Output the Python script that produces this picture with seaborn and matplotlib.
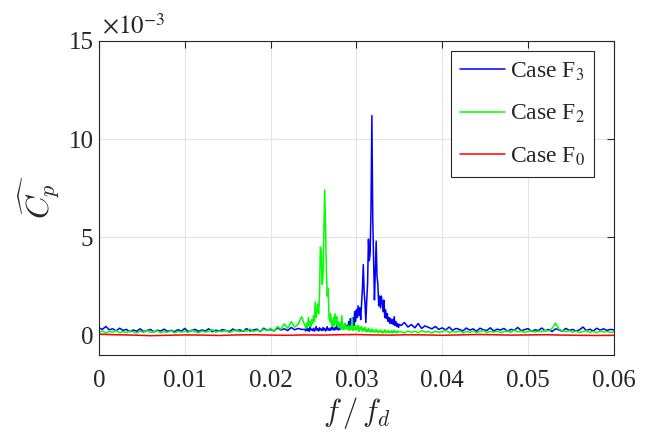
import numpy as np
import pandas as pd
import matplotlib
matplotlib.use("Agg")
import matplotlib.pyplot as plt
from matplotlib.lines import Line2D
import seaborn as sns

# frequency bins f/f_d: coarse away from the peaks, fine around them
f_lo = np.round(np.arange(0.0, 0.0238, 0.0004), 4)       # 60 bins
f_mid = np.round(np.arange(0.0240, 0.03505, 0.0001), 4)  # 111 bins
f_hi = np.round(np.arange(0.0352, 0.06005, 0.0004), 4)   # 63 bins
freq = np.concatenate([f_lo, f_mid, f_hi])

# Case F3 (blue), values in 1e-3
cp_F3 = [
    # 0 .. 0.0236
    0.38, 0.30, 0.45, 0.28, 0.33, 0.22, 0.36, 0.25, 0.30, 0.18,
    0.27, 0.21, 0.33, 0.19, 0.24, 0.30, 0.17, 0.26, 0.22, 0.31,
    0.20, 0.25, 0.18, 0.29, 0.21, 0.35, 0.19, 0.24, 0.30, 0.20,
    0.27, 0.22, 0.33, 0.18, 0.26, 0.21, 0.29, 0.24, 0.19, 0.32,
    0.23, 0.28, 0.20, 0.34, 0.22, 0.27, 0.31, 0.19, 0.36, 0.25,
    0.30, 0.22, 0.38, 0.27, 0.33, 0.24, 0.40, 0.28, 0.35, 0.30,
    # 0.0240 .. 0.0350
    0.30, 0.22, 0.38, 0.25, 0.33, 0.20, 0.42, 0.27, 0.31, 0.24,
    0.36, 0.21, 0.29, 0.45, 0.26, 0.33, 0.22, 0.38, 0.28, 0.31,
    0.24, 0.40, 0.27, 0.35, 0.22, 0.30, 0.44, 0.26, 0.32, 0.25,
    0.37, 0.28, 0.47, 0.30, 0.26, 0.39, 0.29, 0.52, 0.33, 0.27,
    0.41, 0.30, 0.36, 0.55, 0.32, 0.45, 0.38, 0.60, 0.35, 0.48,
    0.40, 0.70, 0.45, 0.85, 0.55, 0.60, 0.90, 0.50, 1.20, 0.70,
    1.30, 0.90, 1.50, 1.00, 1.40, 0.80, 1.60, 2.40, 3.60, 2.20,
    1.60, 0.65, 1.80, 2.60, 4.90, 3.80, 4.20, 6.50, 11.2, 6.00,
    3.80, 1.80, 3.20, 4.80, 3.00, 2.60, 1.50, 2.00, 1.40, 2.00,
    1.70, 1.20, 1.80, 0.90, 1.30, 0.85, 1.10, 0.70, 0.90, 0.60,
    0.85, 0.60, 0.80, 0.55, 0.95, 0.50, 0.70, 0.45, 0.60, 0.40,
    0.55,
    # 0.0352 .. 0.0600
    0.50, 0.65, 0.42, 0.55, 0.38, 0.60, 0.35, 0.48, 0.40, 0.33,
    0.45, 0.30, 0.38, 0.27, 0.42, 0.25, 0.35, 0.30, 0.22, 0.37,
    0.26, 0.33, 0.20, 0.36, 0.28, 0.24, 0.38, 0.22, 0.31, 0.27,
    0.35, 0.21, 0.30, 0.26, 0.40, 0.23, 0.29, 0.34, 0.20, 0.28,
    0.24, 0.37, 0.22, 0.30, 0.19, 0.33, 0.27, 0.21, 0.35, 0.25,
    0.30, 0.20, 0.28, 0.42, 0.24, 0.31, 0.22, 0.36, 0.26, 0.33,
    0.25, 0.30, 0.28,
]

# Case F2 (green), values in 1e-3
cp_F2 = [
    # 0 .. 0.0236
    0.15, 0.22, 0.12, 0.20, 0.16, 0.25, 0.13, 0.19, 0.14, 0.22,
    0.17, 0.12, 0.21, 0.15, 0.26, 0.14, 0.19, 0.23, 0.13, 0.18,
    0.15, 0.24, 0.12, 0.20, 0.16, 0.21, 0.14, 0.27, 0.17, 0.13,
    0.22, 0.16, 0.19, 0.30, 0.15, 0.21, 0.18, 0.25, 0.14, 0.22,
    0.28, 0.17, 0.24, 0.20, 0.32, 0.19, 0.26, 0.22, 0.30, 0.24,
    0.36, 0.21, 0.45, 0.30, 0.58, 0.35, 0.70, 0.42, 0.55, 0.95,
    # 0.0240 .. 0.0350
    0.50, 0.35, 0.60, 0.40, 0.90, 0.50, 0.70, 0.45, 0.80, 0.60,
    1.00, 0.70, 1.70, 0.90, 1.20, 1.60, 1.10, 2.00, 4.50, 4.30,
    2.60, 3.00, 5.00, 7.40, 5.50, 3.30, 2.00, 2.40, 0.95, 0.70,
    1.10, 0.60, 0.45, 0.90, 0.50, 1.10, 0.60, 0.95, 0.45, 0.70,
    0.40, 0.60, 0.35, 1.00, 0.30, 0.50, 0.30, 0.60, 0.35, 0.45,
    0.30, 0.50, 0.25, 0.40, 0.30, 0.90, 0.25, 0.40, 0.30, 0.50,
    0.25, 0.35, 0.50, 0.20, 0.40, 0.30, 0.45, 0.20, 0.35, 0.25,
    0.40, 0.20, 0.30, 0.18, 0.35, 0.20, 0.28, 0.15, 0.30, 0.20,
    0.25, 0.14, 0.22, 0.30, 0.16, 0.24, 0.13, 0.20, 0.27, 0.15,
    0.22, 0.12, 0.19, 0.28, 0.14, 0.21, 0.16, 0.25, 0.13, 0.20,
    0.15, 0.23, 0.12, 0.18, 0.26, 0.14, 0.20, 0.13, 0.22, 0.16,
    0.19,
    # 0.0352 .. 0.0600
    0.18, 0.12, 0.22, 0.15, 0.20, 0.13, 0.24, 0.16, 0.19, 0.12,
    0.21, 0.15, 0.18, 0.26, 0.13, 0.20, 0.16, 0.23, 0.12, 0.19,
    0.15, 0.22, 0.14, 0.18, 0.25, 0.13, 0.20, 0.16, 0.21, 0.14,
    0.19, 0.23, 0.15, 0.27, 0.17, 0.22, 0.14, 0.20, 0.24, 0.16,
    0.21, 0.18, 0.26, 0.22, 0.35, 0.62, 0.30, 0.24, 0.19, 0.23,
    0.16, 0.21, 0.14, 0.19, 0.24, 0.15, 0.20, 0.13, 0.22, 0.17,
    0.19, 0.14, 0.18,
]

# Case F0 (red), nearly flat
f_red = np.linspace(0.0, 0.06, 31)
cp_F0 = [0.06, 0.03, 0.01, -0.02, 0.00, 0.02, 0.01, -0.01, 0.02, 0.03,
         0.01, 0.00, 0.02, 0.01, 0.03, 0.04, 0.02, 0.01, 0.03, 0.02,
         0.00, 0.02, 0.04, 0.03, 0.01, 0.02, 0.03, 0.01, 0.00, -0.01,
         0.00]

cases = ["F3", "F2", "F0"]
labels = ["Case F$_3$", "Case F$_2$", "Case F$_0$"]
colors = {"F3": "#0000ff", "F2": "#00ff00", "F0": "#ff0000"}

xticks = [0, 0.01, 0.02, 0.03, 0.04, 0.05, 0.06]
xticklabels = ["0", "0.01", "0.02", "0.03", "0.04", "0.05", "0.06"]
yticks = [0, 5, 10, 15]

df = pd.concat([
    pd.DataFrame({"f": freq, "Cp": cp_F3, "case": "F3"}),
    pd.DataFrame({"f": freq, "Cp": cp_F2, "case": "F2"}),
    pd.DataFrame({"f": f_red, "Cp": cp_F0, "case": "F0"}),
], ignore_index=True)

sns.set_theme(style="whitegrid")
plt.rcParams["font.family"] = ["Liberation Serif", "DejaVu Serif"]
plt.rcParams["mathtext.fontset"] = "stix"

fig = plt.figure(figsize=(6.51, 4.36), dpi=100)
ax = fig.add_axes([0.152, 0.186, 0.791, 0.720])

sns.lineplot(data=df, x="f", y="Cp", hue="case", hue_order=cases,
             palette=colors, estimator=None, linewidth=1.1, legend=False, ax=ax)

ax.set_xlim(0, 0.06)
ax.set_ylim(-1, 15)
ax.set_xticks(xticks)
ax.set_xticklabels(xticklabels)
ax.set_yticks(yticks)
ax.set_yticklabels([str(v) for v in yticks])

ax.grid(True, color="#e3e3e3", linewidth=0.8)
ax.set_axisbelow(True)
for sp in ax.spines.values():
    sp.set_visible(True)
    sp.set_color("#262626")
    sp.set_linewidth(0.8)
ax.tick_params(axis="both", direction="in", top=True, right=True, length=5,
               width=0.8, color="#262626", labelcolor="#262626", labelsize=18)
ax.tick_params(axis="x", pad=11)
ax.tick_params(axis="y", pad=4)

ax.set_xlabel(r"$f\,/\,f_d$", fontsize=22, math_fontfamily="cm", color="#262626")
ax.set_ylabel(r"$\widehat{C_p}$", fontsize=23, math_fontfamily="cm", color="#262626")
ax.xaxis.set_label_coords(0.5, -0.128)
ax.yaxis.set_label_coords(-0.072, 0.5)

ax.text(0.005, 1.02, r"$\times10^{-3}$", transform=ax.transAxes, fontsize=18,
        ha="left", va="baseline", color="#262626")

handles = [Line2D([], [], color=colors[c], linewidth=1.1) for c in cases]
leg = ax.legend(handles, labels, loc="upper right", bbox_to_anchor=(0.962, 0.968),
                fontsize=17, frameon=True, fancybox=False, edgecolor="#262626",
                framealpha=1, borderaxespad=0, handlelength=1.9, handletextpad=0.2,
                labelspacing=0.85, borderpad=0.4)
leg.get_frame().set_linewidth(0.8)

fig.savefig("out.png", dpi=100)
